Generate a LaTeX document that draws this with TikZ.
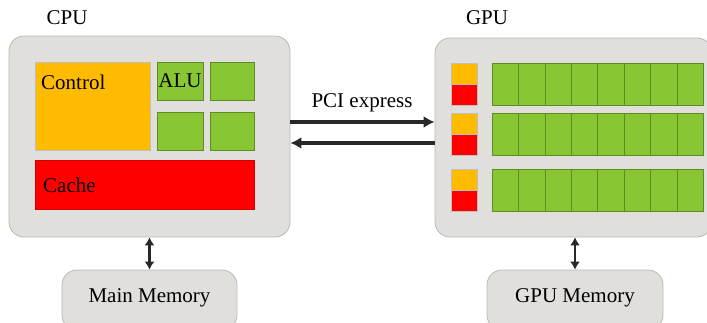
\documentclass[tikz,border=0pt]{standalone}
\usepackage{fontspec}
\setmainfont{Liberation Serif}
\usetikzlibrary{arrows.meta}
\definecolor{boxgray}{RGB}{224,223,219}
\definecolor{edgegray}{RGB}{185,185,180}
\definecolor{ctrlorange}{RGB}{255,187,0}
\definecolor{alugreen}{RGB}{136,198,52}
\definecolor{cachered}{RGB}{255,0,0}
\definecolor{arrowdark}{RGB}{40,40,40}

\begin{document}
\begin{tikzpicture}[x=1pt,y=-1pt]
   \clip (0,0) rectangle (707,322);
   \fontsize{21}{25}\selectfont
   \tikzstyle{chip}=[rectangle, rounded corners=15pt, fill=boxgray, draw=edgegray, line width=0.8pt, inner sep=0pt]
   \tikzstyle{cell}=[rectangle, inner sep=0pt, draw=black!25, line width=0.6pt]
   \tikzstyle{alu}=[cell, fill=alugreen, draw=alugreen!70!black]
   \tikzstyle{link}=[line width=3.6pt, draw=arrowdark, -{Latex[length=11pt,width=12pt]}]
   \tikzstyle{memlink}=[line width=2.8pt, draw=arrowdark, {Latex[length=8pt,width=10pt]}-{Latex[length=8pt,width=10pt]}]
   % CPU side
   \node (cpulabel) at (67,18) {CPU};
   \node[chip, minimum width=281pt, minimum height=201pt] (cpu) at (149.5,136.5) {};
   \node[cell, fill=ctrlorange, minimum width=115pt, minimum height=88pt] (control) at (92.5,106) {};
   \node[anchor=west] at (34,82) {Control};
   \node[alu, minimum width=46pt, minimum height=38pt] (alu1) at (180,81) {};
   \node[alu, minimum width=44pt, minimum height=38pt] (alu2) at (232,81) {};
   \node[alu, minimum width=46pt, minimum height=38pt] (alu3) at (180,131) {};
   \node[alu, minimum width=44pt, minimum height=38pt] (alu4) at (232,131) {};
   \node at (alu1) {ALU};
   \node[cell, fill=cachered, draw=cachered!80!black, minimum width=219pt, minimum height=49pt] (cache) at (144.5,184.5) {};
   \node[anchor=west] at (36,185) {Cache};
   % GPU side
   \node (gpulabel) at (487,18) {GPU};
   \node[chip, minimum width=277pt, minimum height=199pt] (gpu) at (573.5,137.5) {};
   \foreach \r/\t in {1/63,2/113,3/169} {
       \node[cell, fill=ctrlorange, minimum width=26pt, minimum height=21pt] (ctl\r) at (464,\t+10.5) {};
       \node[cell, fill=cachered, minimum width=26pt, minimum height=21pt] (mem\r) at (464,\t+31.5) {};
       \foreach \c in {0,...,7} {
           \node[alu, minimum width=26.4pt, minimum height=42pt] (core\r\c) at (505.2+\c*26.4,\t+21) {};
       }
   }
   % buses
   \draw[link] ([yshift=14.5pt]cpu.east) -- ([yshift=14.5pt]cpu.east -| gpu.west);
   \draw[link] ([yshift=-5.5pt]gpu.west) -- ([yshift=-5.5pt]gpu.west -| cpu.east);
   \node (pci) at (362,103) {PCI express};
   % memories
   \node[chip, minimum width=175pt, minimum height=60pt] (mainmem) at (149.5,300) {};
   \node at (149.5,298) {Main Memory};
   \node[chip, minimum width=176pt, minimum height=60pt] (gpumem) at (575,300) {};
   \node at (575,298) {GPU Memory};
   \draw[memlink] (cpu.south) -- (mainmem.north);
   \draw[memlink] (gpu.south -| gpumem.north) -- (gpumem.north);
\end{tikzpicture}
\end{document}
